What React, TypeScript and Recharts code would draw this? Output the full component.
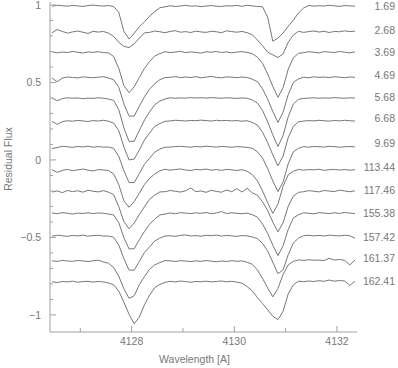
import React from 'react';
import { LineChart, Line, XAxis, YAxis, ReferenceDot } from 'recharts';

const wavelengths = [
  4126.45, 4126.55, 4126.65, 4126.75, 4126.85, 4126.95, 4127.05, 4127.15, 4127.25, 4127.35,
  4127.45, 4127.55, 4127.65, 4127.75, 4127.85, 4127.95, 4128.05, 4128.15, 4128.25, 4128.35,
  4128.45, 4128.55, 4128.65, 4128.75, 4128.85, 4128.95, 4129.05, 4129.15, 4129.25, 4129.35,
  4129.45, 4129.55, 4129.65, 4129.75, 4129.85, 4129.95, 4130.05, 4130.15, 4130.25, 4130.35,
  4130.45, 4130.55, 4130.65, 4130.75, 4130.85, 4130.95, 4131.05, 4131.15, 4131.25, 4131.35,
  4131.45, 4131.55, 4131.65, 4131.75, 4131.85, 4131.95, 4132.05, 4132.15, 4132.25, 4132.35,
];

const phases = ['1.69', '2.68', '3.69', '4.69', '5.68', '6.68', '9.69', '113.44', '117.46', '155.38', '157.42', '161.37', '162.41'];
const offsets = [-0.006, -0.174, -0.306, -0.468, -0.603, -0.748, -0.916, -1.065, -1.203, -1.345, -1.49, -1.652, -1.787];
const labelLevels = [0.994, 0.839, 0.697, 0.548, 0.406, 0.271, 0.11, -0.045, -0.194, -0.342, -0.497, -0.632, -0.781];

const flux1 = [0.997,1.004,1.001,0.998,1.003,1.000,0.996,1.002,1.005,1.001,0.999,1.002,0.996,0.958,0.835,0.786,0.823,0.865,0.897,0.934,0.963,0.988,0.994,1.001,0.996,0.999,1.004,0.998,1.000,0.995,0.999,1.002,0.998,0.996,1.001,0.999,1.003,0.997,1.004,1.000,0.996,0.994,0.927,0.772,0.792,0.825,0.869,0.908,0.954,0.986,1.003,0.998,1.001,0.999,1.004,1.000,0.997,1.002,1.000,0.998];
const flux2 = [0.995,1.015,1.003,0.992,1.000,1.006,0.998,0.990,1.004,0.999,1.003,0.992,0.971,0.933,0.907,0.899,0.923,0.960,0.994,0.997,1.006,1.001,0.995,1.003,1.008,0.998,1.002,0.996,1.005,1.000,0.997,1.004,1.001,0.995,1.007,1.002,0.998,1.003,0.995,0.982,0.948,0.911,0.869,0.852,0.835,0.858,0.933,0.980,1.004,0.997,1.002,1.006,0.999,1.004,0.996,1.003,1.001,1.007,1.002,1.005];
const flux3 = [1.004,0.997,1.002,0.999,1.006,1.001,0.996,1.003,1.000,1.005,0.998,0.997,0.973,0.897,0.785,0.740,0.778,0.838,0.897,0.941,0.977,0.992,1.004,0.999,1.002,1.007,0.998,1.003,1.000,0.995,1.004,1.001,1.006,0.999,1.003,0.997,1.002,1.005,0.999,0.992,0.969,0.929,0.860,0.781,0.710,0.772,0.892,0.965,0.994,0.998,1.004,1.001,0.996,1.005,1.002,0.999,1.006,1.001,0.997,1.003];
const flux4 = [0.998,0.972,0.996,1.003,1.000,0.997,1.004,1.001,0.998,1.002,1.005,0.997,0.985,0.937,0.830,0.751,0.751,0.815,0.875,0.925,0.960,0.986,0.999,1.001,1.006,0.999,1.003,1.000,1.005,0.998,1.002,1.007,1.001,0.998,1.004,1.002,0.999,1.003,1.000,0.989,0.973,0.927,0.860,0.781,0.710,0.776,0.889,0.968,0.991,1.002,0.998,1.004,1.001,1.003,0.999,1.005,1.002,0.998,1.003,1.001];
const flux5 = [1.002,0.985,0.999,1.004,1.001,1.003,0.998,1.002,1.000,1.004,1.001,0.996,0.987,0.927,0.809,0.723,0.724,0.793,0.860,0.914,0.959,0.983,0.996,1.004,1.001,1.003,1.002,1.005,1.003,1.004,1.002,1.005,1.003,1.001,1.004,1.002,1.000,1.003,1.001,0.990,0.970,0.922,0.849,0.765,0.690,0.760,0.881,0.964,0.994,1.000,1.002,1.004,1.001,1.003,1.002,1.005,1.003,1.001,1.004,1.002];
const flux6 = [0.997,0.978,0.995,1.001,0.998,1.003,1.000,0.996,1.002,0.999,1.004,0.998,0.986,0.937,0.831,0.748,0.754,0.812,0.877,0.922,0.964,0.983,0.997,1.000,1.004,1.002,0.999,1.003,1.001,1.005,1.002,0.999,1.004,1.001,1.003,1.000,1.002,0.998,1.001,0.990,0.973,0.927,0.859,0.781,0.710,0.773,0.892,0.965,0.994,0.999,1.002,1.000,1.004,1.001,0.998,1.003,1.000,1.004,1.001,0.999];
const flux7 = [0.990,0.996,1.004,1.001,0.997,1.003,1.000,1.005,0.998,1.002,0.999,0.999,0.991,0.939,0.846,0.770,0.770,0.828,0.888,0.927,0.966,0.986,0.998,0.999,1.002,1.004,1.001,0.998,1.003,1.000,1.005,1.002,0.999,1.003,1.001,0.998,1.002,1.000,0.997,0.991,0.969,0.928,0.860,0.780,0.712,0.773,0.891,0.968,0.991,1.002,0.998,1.003,1.001,0.999,1.004,1.002,0.998,1.001,1.003,1.000];
const flux8 = [1.002,0.985,0.998,1.004,0.996,1.001,1.006,0.999,0.994,1.003,1.000,0.997,0.975,0.905,0.801,0.760,0.796,0.850,0.907,0.947,0.974,0.995,1.005,0.999,1.003,1.007,1.000,0.997,1.004,1.001,1.006,0.999,1.003,0.998,1.004,1.001,0.997,1.002,0.992,0.970,0.931,0.865,0.789,0.720,0.780,0.895,0.969,0.992,1.004,0.999,1.003,1.001,1.005,0.998,1.002,1.004,1.000,1.003,0.999,1.002];
const flux9 = [0.996,1.003,0.992,1.006,0.999,1.004,0.995,1.008,1.001,0.997,1.005,0.995,0.979,0.902,0.804,0.759,0.796,0.851,0.901,0.950,0.976,0.997,0.998,1.006,1.001,0.996,1.004,1.022,0.998,1.003,0.994,1.007,1.000,0.995,1.009,0.998,1.018,0.996,1.020,0.991,0.975,0.933,0.877,0.802,0.739,0.798,0.904,0.969,0.994,0.998,1.005,1.001,0.997,1.006,1.002,0.999,1.008,1.003,0.998,1.004];
const flux10 = [1.003,0.998,1.005,1.001,0.996,1.002,1.000,1.004,0.999,1.003,1.001,0.996,0.990,0.940,0.843,0.771,0.772,0.830,0.884,0.930,0.964,0.990,0.996,1.003,0.998,1.005,1.002,0.999,1.004,1.001,1.006,0.998,1.003,1.012,0.999,1.004,1.001,0.998,1.002,0.992,0.976,0.931,0.871,0.795,0.728,0.791,0.897,0.971,0.991,1.004,1.001,0.997,1.005,1.002,0.999,1.004,1.000,1.006,1.002,0.999];
const flux11 = [0.999,1.004,1.001,0.997,1.003,1.000,1.005,0.998,1.002,1.004,0.999,0.999,0.991,0.941,0.852,0.779,0.779,0.835,0.893,0.930,0.967,0.986,0.999,1.001,0.997,1.003,1.006,1.000,1.002,0.998,1.004,1.001,1.005,0.999,1.003,1.000,0.997,1.002,1.000,0.993,0.983,0.951,0.902,0.830,0.756,0.781,0.878,0.955,0.985,1.002,1.004,1.000,1.003,0.999,1.005,1.002,1.000,1.004,1.001,0.985];
const flux12 = [1.002,0.997,1.004,1.000,0.998,1.003,1.001,0.996,1.002,1.005,0.994,0.986,0.958,0.902,0.820,0.759,0.776,0.848,0.899,0.947,0.975,0.990,1.003,1.001,0.997,1.002,1.000,0.996,1.001,0.998,1.003,0.999,0.995,1.000,0.997,1.002,0.998,1.001,0.992,0.979,0.942,0.888,0.826,0.769,0.823,0.913,0.975,0.998,1.007,1.004,1.008,1.005,1.006,1.003,1.018,1.006,1.010,1.004,0.975,1.006];
const flux13 = [1.001,0.996,1.003,1.000,1.005,0.998,1.002,1.004,0.999,1.003,1.000,0.993,0.982,0.940,0.869,0.791,0.730,0.773,0.852,0.915,0.963,0.984,0.997,1.004,1.000,1.006,1.002,0.998,1.003,1.001,1.005,1.000,1.003,1.006,1.001,1.004,0.999,0.992,0.970,0.943,0.899,0.861,0.820,0.778,0.757,0.810,0.923,0.981,1.005,1.002,1.006,1.003,1.008,1.004,1.012,1.005,1.009,1.006,0.978,1.004];

const spectra = [flux1, flux2, flux3, flux4, flux5, flux6, flux7, flux8, flux9, flux10, flux11, flux12, flux13];

const xTicks = [4127, 4128, 4129, 4130, 4131, 4132];
const xMajor = [4128, 4130, 4132];
const yTicks = [-1, -0.9, -0.8, -0.7, -0.6, -0.5, -0.4, -0.3, -0.2, -0.1, 0, 0.1, 0.2, 0.3, 0.4, 0.5, 0.6, 0.7, 0.8, 0.9, 1];
const yMajor = [-1, -0.5, 0, 0.5, 1];
const yLabels = ['\u22121', '\u22120.5', '0', '0.5', '1'];

const data = wavelengths.map((w, k) => {
  const row: Record<string, number> = { w };
  spectra.forEach((s, i) => {
    row['s' + i] = +(s[k] + offsets[i]).toFixed(4);
  });
  return row;
});

const AXIS = '#a0a0a0';
const TEXT = '#777777';
const LINE = '#666666';
const FONT = 'Liberation Sans, Arial, sans-serif';

const isIn = (arr: number[], v: number) => arr.some((m) => Math.abs(m - v) < 1e-6);

const LeftTick = (props: any) => {
  const { x, y, payload } = props;
  const v = payload.value;
  const idx = yMajor.findIndex((m) => Math.abs(m - v) < 1e-6);
  const major = idx >= 0;
  return (
    <g>
      <line x1={x} x2={x + (major ? 6 : 3)} y1={y} y2={y} stroke={AXIS} />
      {major && (
        <text x={x - 9} y={y} dy="0.35em" textAnchor="end" fill={TEXT} fontSize={10.5} fontFamily={FONT}>
          {yLabels[idx]}
        </text>
      )}
    </g>
  );
};

const RightTick = (props: any) => {
  const { x, y, payload } = props;
  const major = isIn(yMajor, payload.value);
  return <line x1={x} x2={x - (major ? 6 : 3)} y1={y} y2={y} stroke={AXIS} />;
};

const BottomTick = (props: any) => {
  const { x, y, payload } = props;
  const major = isIn(xMajor, payload.value);
  return (
    <g>
      <line x1={x} x2={x} y1={y} y2={y - (major ? 6 : 4)} stroke={AXIS} />
      {major && (
        <text x={x} y={y + 13} textAnchor="middle" fill={TEXT} fontSize={10.5} fontFamily={FONT}>
          {String(payload.value)}
        </text>
      )}
    </g>
  );
};

const TopTick = (props: any) => {
  const { x, y, payload } = props;
  const major = isIn(xMajor, payload.value);
  return <line x1={x} x2={x} y1={y} y2={y + (major ? 6 : 4)} stroke={AXIS} />;
};

export default function App() {
  return (
    <div style={{ position: 'absolute', left: 0, top: 0 }}>
      <LineChart width={398} height={368} data={data} margin={{ top: 2, right: 41, left: 0, bottom: 0 }}>
        <XAxis
          xAxisId="b"
          dataKey="w"
          type="number"
          domain={[4126.41, 4132.39]}
          allowDataOverflow
          ticks={xTicks}
          interval={0}
          height={36}
          tickSize={0}
          tickMargin={0}
          tickLine={false}
          axisLine={{ stroke: AXIS }}
          tick={<BottomTick />}
          label={{ value: 'Wavelength [A]', position: 'insideBottom', offset: 5, dx: -9, fill: TEXT, fontSize: 10.5, fontFamily: FONT }}
        />
        <XAxis
          xAxisId="t"
          orientation="top"
          dataKey="w"
          type="number"
          domain={[4126.41, 4132.39]}
          allowDataOverflow
          ticks={xTicks}
          interval={0}
          height={0}
          tickSize={0}
          tickMargin={0}
          tickLine={false}
          axisLine={{ stroke: AXIS }}
          tick={<TopTick />}
        />
        <YAxis
          yAxisId="l"
          type="number"
          domain={[-1.11, 1.019]}
          allowDataOverflow
          ticks={yTicks}
          interval={0}
          width={50}
          tickSize={0}
          tickMargin={0}
          tickLine={false}
          axisLine={{ stroke: AXIS }}
          tick={<LeftTick />}
          label={{ value: 'Residual Flux', angle: -90, position: 'insideLeft', offset: 8, dy: -8, fill: TEXT, fontSize: 10.5, fontFamily: FONT, style: { textAnchor: 'middle' } }}
        />
        <YAxis
          yAxisId="r"
          orientation="right"
          type="number"
          domain={[-1.11, 1.019]}
          allowDataOverflow
          ticks={yTicks}
          interval={0}
          width={0}
          tickSize={0}
          tickMargin={0}
          tickLine={false}
          axisLine={{ stroke: AXIS }}
          tick={<RightTick />}
        />
        {spectra.map((_, i) => (
          <Line
            key={i}
            xAxisId="b"
            yAxisId="l"
            dataKey={'s' + i}
            type="linear"
            stroke={LINE}
            strokeWidth={0.9}
            dot={false}
            isAnimationActive={false}
          />
        ))}
        {phases.map((p, i) => (
          <ReferenceDot
            key={'lab' + i}
            xAxisId="b"
            yAxisId="l"
            x={4132.39}
            y={labelLevels[i]}
            r={0}
            fill="none"
            stroke="none"
            ifOverflow="visible"
            label={(lp: any) => (
              <text
                x={lp.viewBox.x + 38}
                y={lp.viewBox.y}
                dy="0.35em"
                textAnchor="end"
                fill={TEXT}
                fontSize={10.5}
                fontFamily={FONT}
              >
                {p}
              </text>
            )}
          />
        ))}
      </LineChart>
    </div>
  );
}
